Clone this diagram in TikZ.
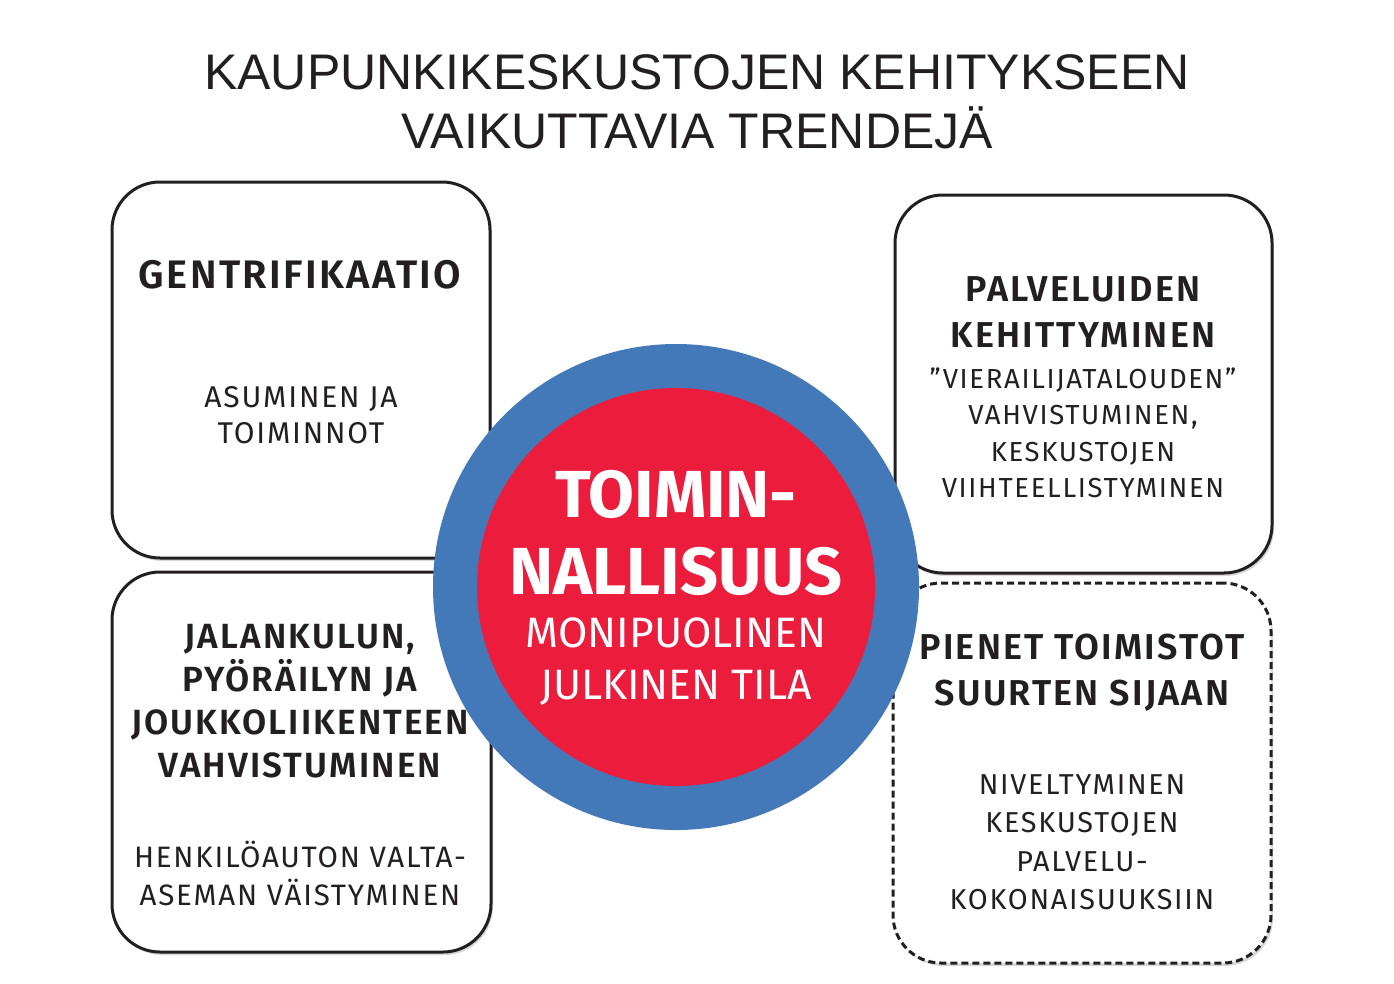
\documentclass[tikz,border=0pt]{standalone}
\usepackage{fontspec}
\setmainfont{Fira Sans}
\newfontfamily\titlefont{Liberation Sans}
\newfontfamily\boxfont[LetterSpace=6, BoldFont={Fira Sans SemiBold}]{Fira Sans}
\usepackage{tikz}
\usetikzlibrary{shadows, positioning}

\definecolor{ringblue}{HTML}{4479B9}
\definecolor{corered}{HTML}{EC1C3C}
\definecolor{inkblack}{HTML}{231F20}

\begin{document}
\begin{tikzpicture}[x=1pt, y=-1pt,
    trendbox/.style={draw=inkblack, line width=3pt, rounded corners=48pt, fill=white, inner sep=0pt,
        drop shadow={shadow xshift=2pt, shadow yshift=-3pt, opacity=0.3}},
    heading/.style={text=inkblack, align=center},
    body/.style={text=inkblack, align=center}]
    \fill[white] (0,0) rectangle (1394,983);
    \useasboundingbox (0,0) rectangle (1394,983);

    % otsikko
    \node[text=inkblack, align=center, font=\titlefont\fontsize{50}{59}\selectfont] (otsikko) at (697,102)
        {KAUPUNKIKESKUSTOJEN KEHITYKSEEN\\VAIKUTTAVIA TRENDEJÄ};

    % laatikot
    \node[trendbox, minimum width=378pt, minimum height=376pt] (gentri) at (301,370) {};
    \node[trendbox, minimum width=377pt, minimum height=378pt] (palvelut) at (1083.5,384) {};
    \node[trendbox, minimum width=379pt, minimum height=380pt] (liikenne) at (301.5,762) {};
    \node[trendbox, minimum width=378pt, minimum height=380pt, dash pattern=on 7pt off 4pt] (toimistot) at (1082,773) {};

    % keskimmäinen ympyrä
    \node[circle, fill=ringblue, minimum size=486pt, inner sep=0pt] (rengas) at (676,587) {};
    \node[circle, fill=corered, minimum size=398pt, inner sep=0pt] (ydin) at (rengas.center) {};

    % tekstit
    \node[heading, font=\boxfont\fontsize{39.8}{46}\selectfont\bfseries] (gentri-otsikko) at (300,275) {GENTRIFIKAATIO};
    \node[body, font=\boxfont\fontsize{30}{36}\selectfont] (gentri-teksti) at (301,415) {ASUMINEN JA\\TOIMINNOT};

    \node[heading, font=\boxfont\fontsize{36}{46}\selectfont\bfseries] (palvelut-otsikko) at (1083,312) {PALVELUIDEN\\KEHITTYMINEN};
    \node[body, font=\boxfont\fontsize{27.5}{36.5}\selectfont] (palvelut-teksti) at (1083,433)
        {”VIERAILIJATALOUDEN”\\VAHVISTUMINEN,\\KESKUSTOJEN\\VIIHTEELLISTYMINEN};

    \node[heading, font=\boxfont\fontsize{35}{43}\selectfont\bfseries] (liikenne-otsikko) at (300,701)
        {JALANKULUN,\\PYÖRÄILYN JA\\JOUKKOLIIKENTEEN\\VAHVISTUMINEN};
    \node[body, font=\boxfont\fontsize{29.5}{38}\selectfont] (liikenne-teksti) at (300,873)
        {HENKILÖAUTON VALTA-\\ASEMAN VÄISTYMINEN};

    \node[heading, font=\boxfont\fontsize{36}{46}\selectfont\bfseries] (toimistot-otsikko) at (1082,673)
        {PIENET TOIMISTOT\\SUURTEN SIJAAN};
    \node[body, font=\boxfont\fontsize{28.8}{38.5}\selectfont] (toimistot-teksti) at (1082,842)
        {NIVELTYMINEN\\KESKUSTOJEN\\PALVELU-\\KOKONAISUUKSIIN};

    \node[text=white, align=center, font=\fontsize{66.5}{77}\selectfont\bfseries] (ydin-otsikko) at (676,533)
        {TOIMIN-\\NALLISUUS};
    \node[text=white, align=center, font=\fontsize{42.5}{52}\selectfont] (ydin-teksti) at (676,662)
        {MONIPUOLINEN\\JULKINEN TILA};
\end{tikzpicture}
\end{document}
